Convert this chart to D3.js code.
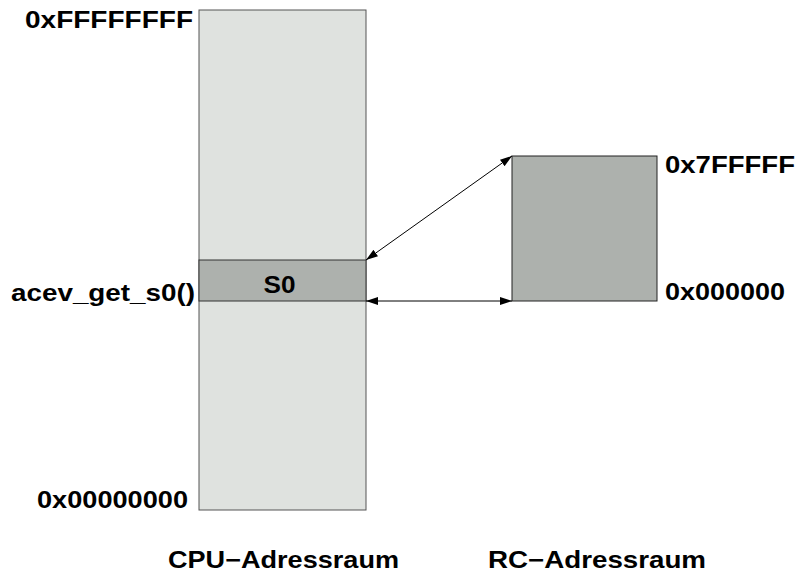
<!DOCTYPE html>
<html>
<head>
<meta charset="utf-8">
<script src="https://cdn.jsdelivr.net/npm/d3@7"></script>
<style>
  html, body { margin: 0; padding: 0; background: #fff; }
  text { font-family: "Liberation Sans", Arial, sans-serif; font-weight: bold; font-size: 24px; fill: #000; }
</style>
</head>
<body>
<div id="diagram"></div>
<script>
// address spaces, heights as share of the CPU space
const spaceNames = ["CPU−Adressraum", "RC−Adressraum"];
const spaceLow = [0, 0.418];
const spaceHigh = [1, 0.708];
const lowLabels = ["0x00000000", "0x000000"];
const highLabels = ["0xFFFFFFFF", "0x7FFFFF"];

// the window in CPU space that maps the RC space
const windowName = "S0";
const windowRange = [0.418, 0.5];
const windowCall = "acev_get_s0()";

const W = 797, H = 576;
const svg = d3.select('#diagram').append('svg')
  .attr('width', W)
  .attr('height', H);

const y = d3.scaleLinear().domain([0, 1]).range([510, 10]);
// column left edge and width
const cols = [{ x: 199, w: 167 }, { x: 512, w: 145 }];
const fills = ['#dfe2df', '#adb1ad'];

// text widths in the reference are stretched, so fix them
const textW = {
  "0xFFFFFFFF": 168, "0x00000000": 151, "0x7FFFFF": 130, "0x000000": 120,
  "acev_get_s0()": 184, "S0": 32, "CPU−Adressraum": 231, "RC−Adressraum": 218
};

const label = (txt, x, yy, anchor) => {
  const t = svg.append('text')
    .attr('x', x)
    .attr('y', yy)
    .attr('text-anchor', anchor || 'start')
    .attr('textLength', textW[txt])
    .attr('lengthAdjust', 'spacingAndGlyphs')
    .text(txt);
  return t;
};

svg.append('defs').append('marker')
  .attr('id', 'head')
  .attr('viewBox', '0 0 12 8')
  .attr('refX', 12)
  .attr('refY', 4)
  .attr('markerWidth', 12)
  .attr('markerHeight', 8)
  .attr('markerUnits', 'userSpaceOnUse')
  .attr('orient', 'auto-start-reverse')
  .append('path')
  .attr('d', 'M0,0 L12,4 L0,8 z')
  .attr('fill', '#000');

// address space boxes
svg.selectAll('rect.space')
  .data(spaceNames)
  .enter()
  .append('rect')
  .attr('class', 'space')
  .attr('x', (d, i) => cols[i].x)
  .attr('y', (d, i) => y(spaceHigh[i]))
  .attr('width', (d, i) => cols[i].w)
  .attr('height', (d, i) => y(spaceLow[i]) - y(spaceHigh[i]))
  .attr('fill', (d, i) => fills[i])
  .attr('stroke', (d, i) => i === 0 ? '#555' : '#222')
  .attr('stroke-width', 1);

// S0 window
svg.append('rect')
  .attr('x', cols[0].x)
  .attr('y', y(windowRange[1]))
  .attr('width', cols[0].w)
  .attr('height', y(windowRange[0]) - y(windowRange[1]))
  .attr('fill', fills[1])
  .attr('stroke', '#333')
  .attr('stroke-width', 1);

label(windowName, cols[0].x + cols[0].w / 2 - 3, y(windowRange[1]) + 33, 'middle');
label(windowCall, 11, y(windowRange[0]));

// address labels
spaceNames.forEach((name, i) => {
  if (i === 0) {
    label(highLabels[i], cols[i].x - 174, y(spaceHigh[i]) + 18);
    label(lowLabels[i], cols[i].x - 162, y(spaceLow[i]) - 2);
  } else {
    label(highLabels[i], cols[i].x + cols[i].w + 8, y(spaceHigh[i]) + 17);
    label(lowLabels[i], cols[i].x + cols[i].w + 8, y(spaceLow[i]) - 1);
  }
});

// space titles
label(spaceNames[0], 168, 568);
label(spaceNames[1], 488, 568);

// mapping arrows
const arrows = [
  [windowRange[1], spaceHigh[1]],
  [windowRange[0], spaceLow[1]]
];
svg.selectAll('line.map')
  .data(arrows)
  .enter()
  .append('line')
  .attr('class', 'map')
  .attr('x1', cols[0].x + cols[0].w)
  .attr('y1', d => y(d[0]))
  .attr('x2', cols[1].x)
  .attr('y2', d => y(d[1]))
  .attr('stroke', '#000')
  .attr('stroke-width', 1)
  .attr('marker-start', 'url(#head)')
  .attr('marker-end', 'url(#head)');
</script>
</body>
</html>
